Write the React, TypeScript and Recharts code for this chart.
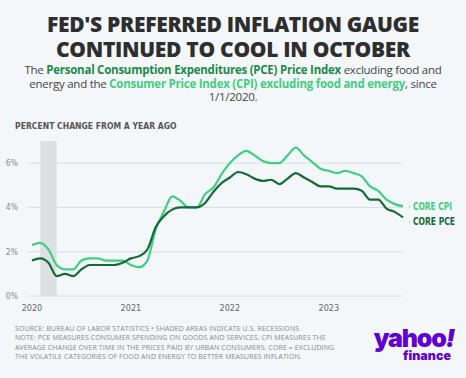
import React from "react";
import { LineChart, Line, XAxis, YAxis, CartesianGrid, ReferenceArea, LabelList } from "recharts";

// monthly, Jan 2020 = 0 ... Oct 2023 = 45
const months = Array.from({ length: 46 }, (_, i) => i);
const coreCpi = [
  2.3, 2.4, 2.1, 1.4, 1.2, 1.2, 1.6, 1.7, 1.7, 1.6, 1.6, 1.6,
  1.4, 1.3, 1.6, 3.0, 3.8, 4.5, 4.3, 4.0, 4.0, 4.6, 4.9, 5.5,
  6.0, 6.35, 6.55, 6.35, 6.1, 6.0, 6.0, 6.35, 6.7, 6.35, 6.05, 5.75,
  5.65, 5.55, 5.65, 5.55, 5.4, 4.95, 4.75, 4.35, 4.15, 4.05,
];
const corePce = [
  1.6, 1.7, 1.5, 0.9, 1.0, 0.9, 1.2, 1.4, 1.4, 1.4, 1.4, 1.5,
  1.7, 1.8, 2.1, 3.1, 3.6, 3.9, 4.0, 4.0, 4.0, 4.2, 4.7, 5.1,
  5.35, 5.6, 5.5, 5.3, 5.2, 5.25, 5.05, 5.3, 5.55, 5.35, 5.15, 4.95,
  4.95, 4.85, 4.85, 4.85, 4.75, 4.35, 4.35, 3.95, 3.8, 3.55,
];
const yTicks = [0, 2, 4, 6];
const xTicks = [0, 12, 24, 36];
const recession = [1, 3];

const data = months.map((m, i) => ({ m, cpi: coreCpi[i], pce: corePce[i] }));
const last = months.length - 1;

const CPI_COLOR = "#3ecf80";
const PCE_COLOR = "#17693a";
const narrow = "'DejaVu Sans Condensed', 'Liberation Sans Narrow', sans-serif";

const endLabel = (text: string, color: string, dy: number, w: number) => (props: any) => {
  if (props.index !== last) return null;
  const x = props.x + 10;
  const y = props.y + dy;
  return (
    <g>
      <line x1={x - 4} y1={y + 2} x2={x - 3} y2={y - 1} stroke="#bbb" strokeWidth={0.8} />
      <text x={x} y={y} dy="0.35em" fill={color} fontSize={10.5} fontWeight={700}
        fontFamily={narrow} textLength={w} lengthAdjust="spacingAndGlyphs">
        {text}
      </text>
    </g>
  );
};

export default function App() {
  return (
    <div style={{ position: "absolute", left: 0, top: 0, width: 466, height: 378, background: "#f4f7f9", overflow: "hidden", fontFamily: "'Open Sans', sans-serif" }}>
      <div style={{ position: "absolute", top: 12, left: 0, width: 466, textAlign: "center", fontSize: 21, fontWeight: 800, lineHeight: "25px", color: "#2e2e2e", letterSpacing: -0.3 }}>
        FED'S PREFERRED INFLATION GAUGE<br />CONTINUED TO COOL IN OCTOBER
      </div>
      <div style={{ position: "absolute", top: 63, left: 0, width: 466, textAlign: "center", fontSize: 11.5, lineHeight: "13.5px", color: "#444", letterSpacing: -0.25, whiteSpace: "nowrap" }}>
        The <b style={{ color: "#1d8a47" }}>Personal Consumption Expenditures (PCE) Price Index</b> excluding food and<br />
        energy and the <b style={{ color: "#3fcf7f" }}>Consumer Price Index (CPI) excluding food and energy</b>, since<br />
        1/1/2020.
      </div>
      <div style={{ position: "absolute", top: 120, left: 15, fontSize: 9.5, fontWeight: 700, color: "#555", fontFamily: narrow, transform: "scaleX(0.9)", transformOrigin: "left", whiteSpace: "nowrap" }}>
        PERCENT CHANGE FROM A YEAR AGO
      </div>
      <div style={{ position: "absolute", left: 0, top: 0 }}>
        <LineChart width={466} height={378} data={data} margin={{ top: 141, right: 63, bottom: 62, left: 0 }}>
          <CartesianGrid vertical={false} stroke="#d9dee1" horizontalValues={yTicks} />
          <ReferenceArea x1={recession[0]} x2={recession[1]} y1={0} y2={7} fill="#dde0e2" fillOpacity={1} stroke="none" ifOverflow="visible" />
          <XAxis dataKey="m" type="number" domain={[-0.6, 45]} ticks={xTicks} tickFormatter={(v) => String(2020 + v / 12)}
            axisLine={false} tickLine={false} tickMargin={3} height={20}
            tick={{ fontSize: 9, fill: "#666", fontFamily: narrow }} />
          <YAxis type="number" domain={[0, 7]} ticks={yTicks} tickFormatter={(v) => `${v}%`} width={27}
            axisLine={false} tickLine={false} tickMargin={3}
            tick={{ fontSize: 8.5, fill: "#888", fontFamily: narrow }} />
          <Line type="monotone" dataKey="cpi" stroke={CPI_COLOR} strokeWidth={2.2} dot={false} isAnimationActive={false}>
            <LabelList dataKey="cpi" content={endLabel("CORE CPI", CPI_COLOR, 0, 39)} />
          </Line>
          <Line type="monotone" dataKey="pce" stroke={PCE_COLOR} strokeWidth={2.2} dot={false} isAnimationActive={false}>
            <LabelList dataKey="pce" content={endLabel("CORE PCE", PCE_COLOR, 4, 42)} />
          </Line>
        </LineChart>
      </div>
      <div style={{ position: "absolute", top: 324, left: 15, fontSize: 7, lineHeight: "9.4px", color: "#888", fontWeight: 400, letterSpacing: 0.1, whiteSpace: "nowrap" }}>
        SOURCE: BUREAU OF LABOR STATISTICS • SHADED AREAS INDICATE U.S. RECESSIONS<br />
        NOTE: PCE MEASURES CONSUMER SPENDING ON GOODS AND SERVICES. CPI MEASURES THE<br />
        AVERAGE CHANGE OVER TIME IN THE PRICES PAID BY URBAN CONSUMERS. CORE = EXCLUDING<br />
        THE VOLATILE CATEGORIES OF FOOD AND ENERGY TO BETTER MEASURES INFLATION.
      </div>
      <div style={{ position: "absolute", top: 327, left: 362, width: 92, textAlign: "right", color: "#6001d2", fontFamily: "Inter, sans-serif", fontWeight: 900 }}>
        <div style={{ fontSize: 25, lineHeight: "22px", letterSpacing: -1.2 }}>yahoo<span style={{ fontStyle: "italic" }}>!</span></div>
        <div style={{ fontSize: 12.5, lineHeight: "13px", marginRight: 3 }}>finance</div>
      </div>
    </div>
  );
}
